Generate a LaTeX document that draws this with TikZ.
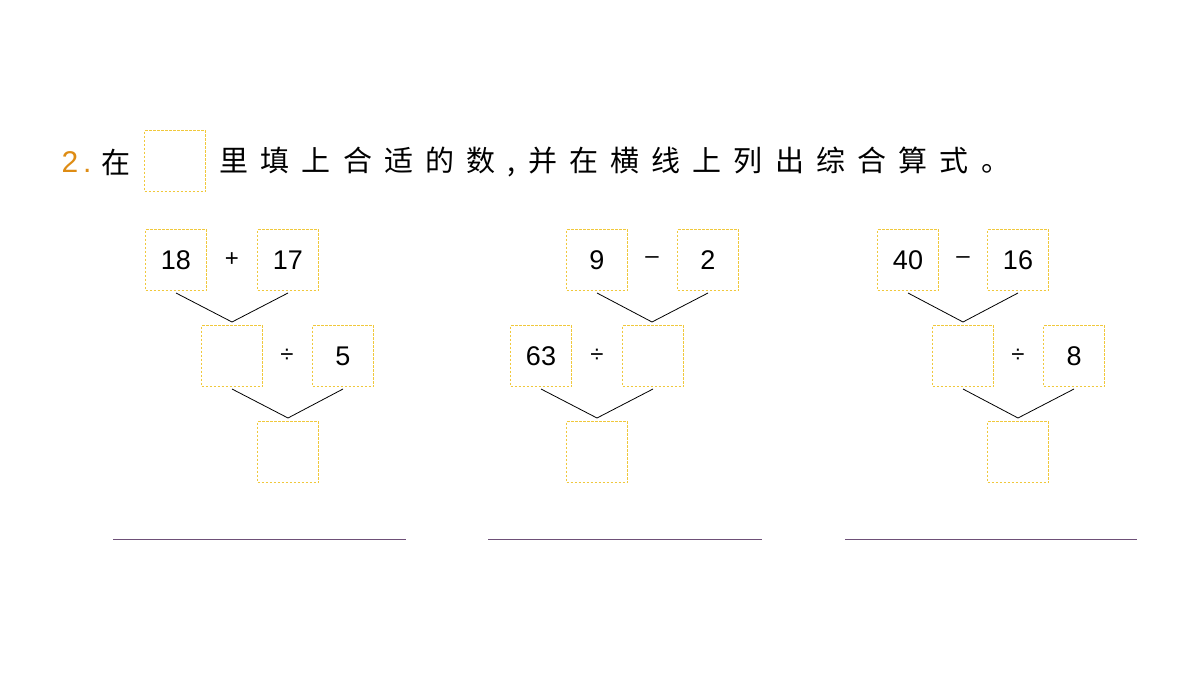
\documentclass[tikz,border=0pt]{standalone}
\usepackage{fontspec}
\setmainfont{Liberation Sans}
\newfontfamily\cjk[LetterSpace=42]{Noto Sans CJK SC}
\definecolor{boxyellow}{RGB}{240,200,60}
\definecolor{numorange}{RGB}{222,140,20}
\definecolor{linepurple}{RGB}{110,80,120}
\tikzset{
  fillbox/.style={draw=boxyellow,dash pattern=on 2.5pt off 1.5pt,line width=1.2pt,minimum size=61pt,inner sep=0pt,font=\fontsize{27}{27}\selectfont},
  sym/.style={inner sep=0pt,font=\fontsize{24}{24}\selectfont},
  stem/.style={line width=0.8pt}
}
\begin{document}
\begin{tikzpicture}[x=1pt,y=-1pt]
\useasboundingbox (0,0) rectangle (1200,675);

% title
\node[numorange,anchor=west,font=\fontsize{30}{30}\selectfont] (num) at (58,162) {2\,.};
\node[anchor=west,font=\cjk\fontsize{29}{29}\selectfont] (zai) at (98,162) {在};
\node[fillbox] (blank) at (175,161) {};
\node[anchor=west,font=\cjk\fontsize{29}{29}\selectfont] (title) at (216,162) {里填上合适的数,并在横线上列出综合算式。};

% first tree
\node[fillbox] (a1) at (176,260) {18};
\node[sym] (p1) at (232,260) {+};
\node[fillbox] (b1) at (288,260) {17};
\node[fillbox] (c1) at (232,356) {};
\node[sym] (q1) at (287,356) {÷};
\node[fillbox] (d1) at (343,356) {5};
\node[fillbox] (e1) at (288,452) {};
\coordinate (j1) at (232,322);
\coordinate (k1) at (288,418);
\draw[stem] (176,293) -- (j1) -- (288,293);
\draw[stem] (232,389) -- (k1) -- (343,389);

% second tree
\node[fillbox] (a2) at (597,260) {9};
\node[sym] (p2) at (652,260) {–};
\node[fillbox] (b2) at (708,260) {2};
\node[fillbox] (c2) at (541,356) {63};
\node[sym] (q2) at (597,356) {÷};
\node[fillbox] (d2) at (653,356) {};
\node[fillbox] (e2) at (597,452) {};
\coordinate (j2) at (652,322);
\coordinate (k2) at (597,418);
\draw[stem] (597,293) -- (j2) -- (708,293);
\draw[stem] (541,389) -- (k2) -- (653,389);

% third tree
\node[fillbox] (a3) at (908,260) {40};
\node[sym] (p3) at (963,260) {–};
\node[fillbox] (b3) at (1018,260) {16};
\node[fillbox] (c3) at (963,356) {};
\node[sym] (q3) at (1018,356) {÷};
\node[fillbox] (d3) at (1074,356) {8};
\node[fillbox] (e3) at (1018,452) {};
\coordinate (j3) at (963,322);
\coordinate (k3) at (1018,418);
\draw[stem] (908,293) -- (j3) -- (1018,293);
\draw[stem] (963,389) -- (k3) -- (1074,389);

% answer lines
\draw[linepurple,line width=0.8pt] (113,539) -- (406,539);
\draw[linepurple,line width=0.8pt] (488,539) -- (762,539);
\draw[linepurple,line width=0.8pt] (845,539) -- (1137,539);

\end{tikzpicture}
\end{document}
